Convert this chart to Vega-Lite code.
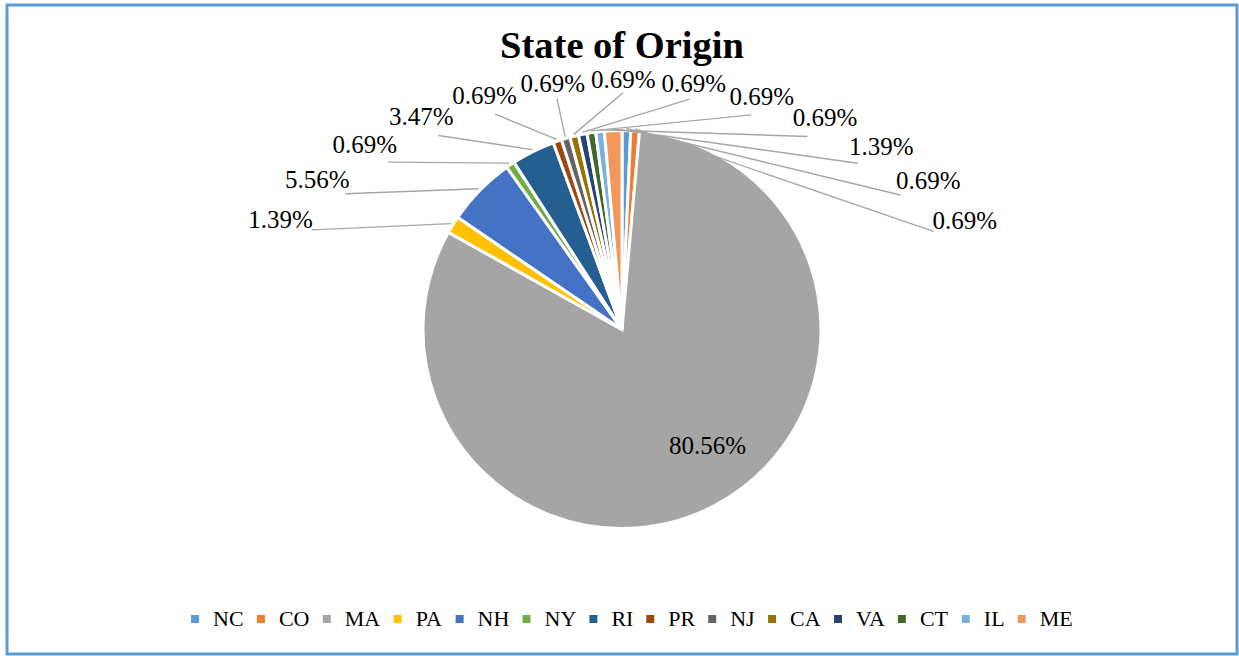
{
  "$schema": "https://vega.github.io/schema/vega-lite/v6.json",
  "width": 1230,
  "height": 649,
  "autosize": {"type": "none"},
  "padding": {"left": 7, "top": 5, "right": 2, "bottom": 2},
  "background": "white",
  "config": {
    "view": {"stroke": null},
    "font": "Liberation Serif"
  },
  "title": {
    "text": "State of Origin",
    "font": "Liberation Serif",
    "fontSize": 38.5,
    "fontWeight": "bold",
    "color": "#000000",
    "anchor": "middle",
    "baseline": "alphabetic",
    "offset": -93
  },
  "data": {
    "values": [
      {"state": "NC", "pct": 0.69, "order": 1, "label": "0.69%"},
      {"state": "CO", "pct": 0.69, "order": 2, "label": "0.69%"},
      {"state": "MA", "pct": 80.56, "order": 3, "label": "80.56%"},
      {"state": "PA", "pct": 1.39, "order": 4, "label": "1.39%"},
      {"state": "NH", "pct": 5.56, "order": 5, "label": "5.56%"},
      {"state": "NY", "pct": 0.69, "order": 6, "label": "0.69%"},
      {"state": "RI", "pct": 3.47, "order": 7, "label": "3.47%"},
      {"state": "PR", "pct": 0.69, "order": 8, "label": "0.69%"},
      {"state": "NJ", "pct": 0.69, "order": 9, "label": "0.69%"},
      {"state": "CA", "pct": 0.69, "order": 10, "label": "0.69%"},
      {"state": "VA", "pct": 0.69, "order": 11, "label": "0.69%"},
      {"state": "CT", "pct": 0.69, "order": 12, "label": "0.69%"},
      {"state": "IL", "pct": 0.69, "order": 13, "label": "0.69%"},
      {"state": "ME", "pct": 1.39, "order": 14, "label": "1.39%"}
    ]
  },
  "layer": [
    {
      "mark": {"type": "arc", "outerRadius": 199, "stroke": "white", "strokeWidth": 3},
      "encoding": {
        "theta": {"field": "pct", "type": "quantitative", "stack": true},
        "order": {"field": "order", "type": "quantitative"},
        "color": {
          "field": "state",
          "type": "nominal",
          "sort": null,
          "scale": {
            "domain": ["NC", "CO", "MA", "PA", "NH", "NY", "RI", "PR", "NJ", "CA", "VA", "CT", "IL", "ME"],
            "range": ["#5B9BD5", "#ED7D31", "#A5A5A5", "#FFC000", "#4472C4", "#70AD47", "#255E91", "#9E480E", "#636363", "#997300", "#264478", "#43682B", "#7CAFDD", "#F1975A"]
          },
          "legend": {
            "title": null,
            "orient": "none",
            "direction": "horizontal",
            "legendX": 177,
            "legendY": 603,
            "symbolType": "square",
            "symbolSize": 64,
            "symbolStrokeWidth": 0,
            "labelFont": "Liberation Serif",
            "labelFontSize": 22,
            "labelColor": "#000000",
            "labelOffset": 7,
            "columnPadding": 5.9
          }
        }
      }
    },
    {
      "mark": {"type": "text", "radius": 140, "dx": 20, "dy": -7, "fontSize": 25, "font": "Liberation Serif", "color": "#000000"},
      "encoding": {
        "theta": {"field": "pct", "type": "quantitative", "stack": true},
        "order": {"field": "order", "type": "quantitative"},
        "text": {"condition": {"test": "datum.state === 'MA'", "field": "label"}, "value": ""}
      }
    },
    {
      "transform": [
        {"stack": "pct", "groupby": [], "sort": [{"field": "order"}], "as": ["a0", "a1"]},
        {"joinaggregate": [{"op": "sum", "field": "pct", "as": "tot"}]},
        {"filter": "datum.state !== 'MA'"},
        {"calculate": "(datum.a0 + datum.a1) / datum.tot * PI", "as": "mid"},
        {"calculate": "datum.order >= 4 ? datum.order - 4 : datum.order + 10", "as": "s"},
        {"calculate": "(296 + datum.s * 10.7) * PI / 180", "as": "la"},
        {"calculate": "380 * sin(datum.la)", "as": "lx"},
        {"calculate": "250 * cos(datum.la)", "as": "ly"},
        {"calculate": "201 * sin(datum.mid)", "as": "px"},
        {"calculate": "201 * cos(datum.mid)", "as": "py"},
        {"calculate": "sqrt(datum.lx * datum.lx + datum.ly * datum.ly)", "as": "ln"},
        {"calculate": "sqrt(pow(34 * datum.lx / datum.ln, 2) + pow(13 * datum.ly / datum.ln, 2))", "as": "dd"},
        {"calculate": "datum.lx - datum.lx / datum.ln * datum.dd", "as": "ex"},
        {"calculate": "datum.ly - datum.ly / datum.ln * datum.dd", "as": "ey"}
      ],
      "layer": [
        {
          "mark": {"type": "rule", "color": "#A6A6A6", "strokeWidth": 1.4},
          "encoding": {
            "x": {"field": "px", "type": "quantitative", "axis": null, "scale": {"domain": [-615, 615], "nice": false, "zero": false}},
            "y": {"field": "py", "type": "quantitative", "axis": null, "scale": {"domain": [-324.5, 324.5], "nice": false, "zero": false}},
            "x2": {"field": "ex"},
            "y2": {"field": "ey"}
          }
        },
        {
          "mark": {"type": "text", "fontSize": 25, "font": "Liberation Serif", "color": "#000000", "align": "center", "baseline": "middle"},
          "encoding": {
            "x": {"field": "lx", "type": "quantitative", "axis": null, "scale": {"domain": [-615, 615], "nice": false, "zero": false}},
            "y": {"field": "ly", "type": "quantitative", "axis": null, "scale": {"domain": [-324.5, 324.5], "nice": false, "zero": false}},
            "text": {"field": "label"}
          }
        }
      ]
    },
    {
      "data": {"values": [{}]},
      "mark": {"type": "rect", "fill": null, "fillOpacity": 0, "stroke": "#5B9BD5", "strokeWidth": 3},
      "encoding": {}
    }
  ]
}
